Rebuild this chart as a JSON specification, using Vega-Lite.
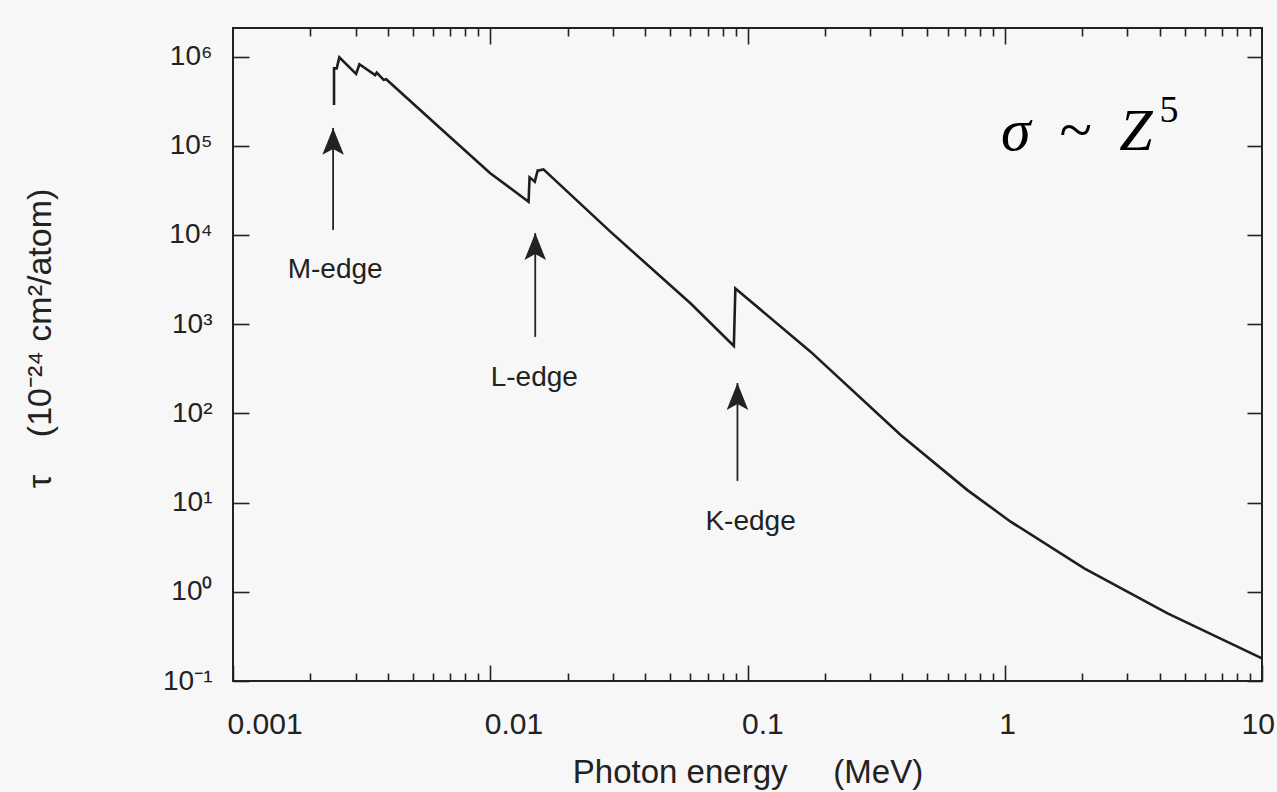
{
  "$schema": "https://vega.github.io/schema/vega-lite/v6.json",
  "width": 1029,
  "height": 653,
  "autosize": {"type": "none"},
  "padding": {"left": 233, "top": 28, "right": 15, "bottom": 111},
  "background": "#f7f7f7",
  "config": {
    "view": {"stroke": "#222", "strokeWidth": 2},
    "font": "Liberation Sans",
    "axis": {
      "domain": false, "grid": false, "tickColor": "#222", "tickWidth": 1.6,
      "labelColor": "#222", "titleColor": "#222", "labelFont": "Liberation Sans",
      "titleFont": "Liberation Sans", "titleFontWeight": "normal"
    }
  },
  "datasets": {
    "curve": [
      {"i": 1, "E": 0.00247, "tau": 286000},
      {"i": 2, "E": 0.00247, "tau": 738000},
      {"i": 3, "E": 0.00253, "tau": 738000},
      {"i": 4, "E": 0.00259, "tau": 980000},
      {"i": 5, "E": 0.00301, "tau": 640000},
      {"i": 6, "E": 0.00310, "tau": 820000},
      {"i": 7, "E": 0.00357, "tau": 620000},
      {"i": 8, "E": 0.00362, "tau": 660000},
      {"i": 9, "E": 0.00385, "tau": 547000},
      {"i": 10, "E": 0.00394, "tau": 556000},
      {"i": 11, "E": 0.00638, "tau": 158000},
      {"i": 12, "E": 0.0100, "tau": 49200},
      {"i": 13, "E": 0.01409, "tau": 23600},
      {"i": 14, "E": 0.01422, "tau": 44300},
      {"i": 15, "E": 0.0149, "tau": 39600},
      {"i": 16, "E": 0.01528, "tau": 52600},
      {"i": 17, "E": 0.0161, "tau": 54300},
      {"i": 18, "E": 0.0293, "tau": 10900},
      {"i": 19, "E": 0.060, "tau": 1714},
      {"i": 20, "E": 0.0885, "tau": 570},
      {"i": 21, "E": 0.0897, "tau": 2512},
      {"i": 22, "E": 0.1758, "tau": 492},
      {"i": 23, "E": 0.394, "tau": 57.3},
      {"i": 24, "E": 0.716, "tau": 13.8},
      {"i": 25, "E": 1.054, "tau": 6.11},
      {"i": 26, "E": 2.037, "tau": 1.83},
      {"i": 27, "E": 4.295, "tau": 0.574},
      {"i": 28, "E": 10, "tau": 0.179}
    ],
    "arrows": [
      {"edge": "M-edge", "E": 0.00245, "tip": 158500, "base": 11400, "labelE": 0.002495, "labelTau": 4055},
      {"edge": "L-edge", "E": 0.01496, "tip": 10500, "base": 720, "labelE": 0.01483, "labelTau": 249.5},
      {"edge": "K-edge", "E": 0.0914, "tip": 219, "base": 17.5, "labelE": 0.1028, "labelTau": 6.06}
    ],
    "formula": [
      {"text": "σ", "E": 1.104, "tau": 89800, "part": "italic"},
      {"text": "~", "E": 1.888, "tau": 89800, "part": "op"},
      {"text": "Z", "E": 3.236, "tau": 89800, "part": "italic"},
      {"text": "5", "E": 4.346, "tau": 185000, "part": "sup"}
    ]
  },
  "layer": [
    {
      "data": {"name": "curve"},
      "mark": {"type": "line", "color": "#1e1e1e", "strokeWidth": 2.6},
      "encoding": {
        "order": {"field": "i", "type": "quantitative"},
        "x": {
          "field": "E", "type": "quantitative",
          "scale": {"type": "log", "domain": [0.001, 10]},
          "axis": {
            "orient": "bottom", "values": [0.001, 0.01, 0.1, 1, 10], "format": "~g",
            "tickSize": -16, "labelFontSize": 30, "labelAlign": "left",
            "labelOffset": {"condition": {"test": "datum.value > 5", "value": -21}, "value": -6},
            "labelPadding": 44, "labelOverlap": false, "labelFlush": false, "labelBound": false,
            "title": "Photon energy\u00a0\u00a0\u00a0\u00a0\u00a0(MeV)", "titleFontSize": 33, "titlePadding": 17
          }
        },
        "y": {
          "field": "tau", "type": "quantitative",
          "scale": {"type": "log", "domain": [0.1, 2090000]},
          "axis": {
            "orient": "left", "values": [0.1, 1, 10, 100, 1000, 10000, 100000, 1000000],
            "tickSize": -16, "labelFontSize": 28, "labelPadding": 37,
            "labelExpr": "'10' + (datum.value < 0.5 ? '⁻¹' : datum.value < 5 ? '⁰' : datum.value < 50 ? '¹' : datum.value < 500 ? '²' : datum.value < 5000 ? '³' : datum.value < 50000 ? '⁴' : datum.value < 500000 ? '⁵' : '⁶')",
            "title": "τ\u00a0\u00a0\u00a0\u00a0(10⁻²⁴ cm²/atom)", "titleFontSize": 34, "titlePadding": 105, "titleY": 310
          }
        }
      }
    },
    {
      "data": {"name": "arrows"},
      "mark": {"type": "rule", "color": "#222", "strokeWidth": 1.8},
      "encoding": {
        "x": {
          "field": "E", "type": "quantitative",
          "scale": {"type": "log", "domain": [0.001, 10]},
          "axis": {
            "orient": "bottom", "values": [0.002, 0.003, 0.004, 0.005, 0.006, 0.007, 0.008, 0.009, 0.02, 0.03, 0.04, 0.05, 0.06, 0.07, 0.08, 0.09, 0.2, 0.3, 0.4, 0.5, 0.6, 0.7, 0.8, 0.9, 2, 3, 4, 5, 6, 7, 8, 9],
            "tickSize": -8, "labels": false, "title": null
          }
        },
        "y": {
          "field": "base", "type": "quantitative",
          "scale": {"type": "log", "domain": [0.1, 2090000]},
          "axis": {
            "orient": "right", "values": [0.1, 1, 10, 100, 1000, 10000, 100000, 1000000],
            "tickSize": -15, "labels": false, "title": null
          }
        },
        "y2": {"field": "tip"}
      }
    },
    {
      "data": {"name": "arrows"},
      "mark": {"type": "point", "shape": "M0,0L0.4,1L0,0.78L-0.4,1Z", "filled": true, "color": "#222", "opacity": 1, "size": 2900, "strokeWidth": 0},
      "encoding": {
        "x": {
          "field": "E", "type": "quantitative",
          "scale": {"type": "log", "domain": [0.001, 10]},
          "axis": {"orient": "top", "values": [0.01, 0.1, 1], "tickSize": -16, "labels": false, "title": null}
        },
        "y": {
          "field": "tip", "type": "quantitative",
          "scale": {"type": "log", "domain": [0.1, 2090000]},
          "axis": null
        }
      }
    },
    {
      "data": {"name": "arrows"},
      "mark": {"type": "text", "font": "Liberation Sans", "fontSize": 28, "color": "#222", "align": "center", "baseline": "middle"},
      "encoding": {
        "text": {"field": "edge"},
        "x": {
          "field": "labelE", "type": "quantitative",
          "scale": {"type": "log", "domain": [0.001, 10]},
          "axis": {
            "orient": "top", "values": [0.002, 0.003, 0.004, 0.005, 0.006, 0.007, 0.008, 0.009, 0.02, 0.03, 0.04, 0.05, 0.06, 0.07, 0.08, 0.09, 0.2, 0.3, 0.4, 0.5, 0.6, 0.7, 0.8, 0.9, 2, 3, 4, 5, 6, 7, 8, 9],
            "tickSize": -8, "labels": false, "title": null
          }
        },
        "y": {
          "field": "labelTau", "type": "quantitative",
          "scale": {"type": "log", "domain": [0.1, 2090000]},
          "axis": null
        }
      }
    },
    {
      "data": {"name": "formula"},
      "transform": [{"filter": "datum.part == 'italic'"}],
      "mark": {"type": "text", "font": "Liberation Serif", "fontStyle": "italic", "fontSize": 60, "color": "#000", "align": "center", "baseline": "alphabetic"},
      "encoding": {
        "text": {"field": "text"},
        "x": {"field": "E", "type": "quantitative", "scale": {"type": "log", "domain": [0.001, 10]}, "axis": null},
        "y": {"field": "tau", "type": "quantitative", "scale": {"type": "log", "domain": [0.1, 2090000]}, "axis": null}
      }
    },
    {
      "data": {"name": "formula"},
      "transform": [{"filter": "datum.part == 'op'"}],
      "mark": {"type": "text", "font": "Liberation Serif", "fontSize": 60, "color": "#000", "align": "center", "baseline": "alphabetic"},
      "encoding": {
        "text": {"field": "text"},
        "x": {"field": "E", "type": "quantitative", "scale": {"type": "log", "domain": [0.001, 10]}, "axis": null},
        "y": {"field": "tau", "type": "quantitative", "scale": {"type": "log", "domain": [0.1, 2090000]}, "axis": null}
      }
    },
    {
      "data": {"name": "formula"},
      "transform": [{"filter": "datum.part == 'sup'"}],
      "mark": {"type": "text", "font": "Liberation Serif", "fontSize": 38, "color": "#000", "align": "center", "baseline": "alphabetic"},
      "encoding": {
        "text": {"field": "text"},
        "x": {"field": "E", "type": "quantitative", "scale": {"type": "log", "domain": [0.001, 10]}, "axis": null},
        "y": {"field": "tau", "type": "quantitative", "scale": {"type": "log", "domain": [0.1, 2090000]}, "axis": null}
      }
    }
  ],
  "resolve": {"axis": {"x": "independent", "y": "independent"}}
}
